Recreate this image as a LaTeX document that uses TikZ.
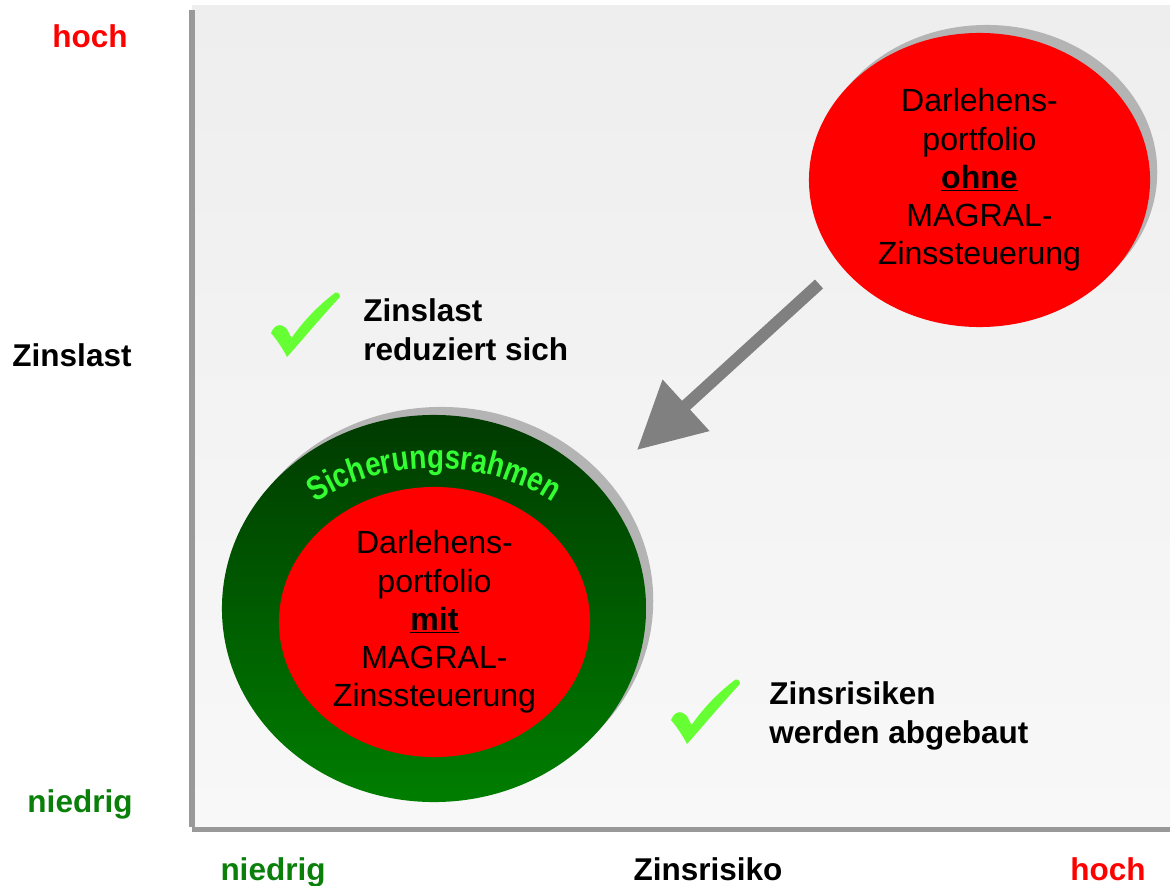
\documentclass[tikz,border=0pt]{standalone}
\usepackage{fontspec}
\setmainfont{Liberation Sans}
\newfontfamily\sicherfont[FakeStretch=0.82]{Liberation Sans Bold}
\usepackage{xcolor}
\usetikzlibrary{positioning}
\usetikzlibrary{shapes.geometric}
\usetikzlibrary{decorations.text}
\usetikzlibrary{arrows.meta}
\usetikzlibrary{shadows}
\definecolor{hochred}{HTML}{FF0000}
\definecolor{niedriggreen}{HTML}{0A800A}
\definecolor{axisgray}{HTML}{999999}
\definecolor{bgtop}{HTML}{EEEEEE}
\definecolor{bgbottom}{HTML}{F8F8F8}
\definecolor{shadowgray}{HTML}{B4B4B4}
\definecolor{ringdark}{HTML}{003A00}
\definecolor{ringlight}{HTML}{007E00}
\definecolor{sichergreen}{HTML}{33FF33}
\definecolor{checkgreen}{HTML}{66FF33}
\definecolor{arrowgray}{HTML}{808080}
\tikzset{
    axislabel/.style = {inner sep=0pt, anchor=base,
        font=\fontsize{22.4}{27.7}\selectfont\bfseries},
    note/.style = {axislabel, anchor=north west, align=left},
    portfolio/.style = {ellipse, fill=hochred, inner sep=0pt,
        align=center, font=\fontsize{22.8}{27.2}\selectfont},
    portshadow/.style = {drop shadow={shadow xshift=0.18cm,
        shadow yshift=0.2cm, fill=shadowgray, opacity=1}},
    bigarrow/.style = {draw=arrowgray, line width=0.3cm,
        -{Triangle[length=1.66cm, width=1.66cm]}},
    checkmark/.pic = {
        \fill [checkgreen] (0,0) .. controls (-4,8) and (-10,17) .. (-16,24)
            .. controls (-14,30) and (-9,33) .. (-5,31.5)
            .. controls (-1,30) .. (4.5,19)
            .. controls (18,38) and (32,52) .. (48.5,64.5)
            .. controls (51,65.5) and (54,62) .. (52.5,59.5)
            .. controls (36,42) and (17,19) .. (0,0) -- cycle;
    }
}

\begin{document}
\begin{tikzpicture}[x=0.025cm, y=0.025cm]
    \useasboundingbox (0,0) rectangle (1170,-886);
    % plot area
    \fill [top color=bgtop, bottom color=bgbottom] (192,-6) rectangle (1170,-827);
    \fill [axisgray] (189,-10) rectangle (194.5,-827);
    \fill [axisgray] (192,-827) rectangle (1170,-832);

    % axis labels
    \node [axislabel, text=hochred] (yhoch) at (90,-48) {hoch};
    \node [axislabel] (ytitle) at (72,-366) {Zinslast};
    \node [axislabel, text=niedriggreen] (yniedrig) at (80,-812) {niedrig};
    \node [axislabel, text=niedriggreen] (xniedrig) at (273,-880) {niedrig};
    \node [axislabel] (xtitle) at (708,-880) {Zinsrisiko};
    \node [axislabel, text=hochred] (xhoch) at (1108,-880) {hoch};

    % portfolios
    \node [portfolio, portshadow, minimum width=8.525cm, minimum height=7.35cm]
        (ohne) at (979.5,-180) {Darlehens-\\portfolio\\\underline{\textbf{ohne}}\\MAGRAL-\\Zinssteuerung};
    \node [ellipse, portshadow, top color=ringdark, bottom color=ringlight,
        minimum width=10.6cm, minimum height=9.675cm] (ring) at (434,-608.5) {};
    \node [portfolio, minimum width=7.775cm, minimum height=6.75cm]
        (mit) at (434.5,-622) {Darlehens-\\portfolio\\\underline{\textbf{mit}}\\MAGRAL-\\Zinssteuerung};
    \path [decorate, decoration={text along path, text align=center,
        text={|\sicherfont\fontsize{24}{25}\selectfont\color{sichergreen}|Sicherungsrahmen}}]
        (ring.center) ++(160:182 and 140) arc [start angle=160, end angle=20,
        x radius=182, y radius=140];

    % shift
    \coordinate (arrstart) at (819,-284);
    \coordinate (arrend) at (637,-450);
    \draw [bigarrow] (arrstart) -- (arrend);

    % effects
    \pic (check1) at (287,-357) {checkmark};
    \pic (check2) at (687,-744) {checkmark};
    \node [note] (lastnote) at (363,-298) {Zinslast\\reduziert sich};
    \node [note] (risknote) at (769,-681) {Zinsrisiken\\werden abgebaut};
\end{tikzpicture}
\end{document}
